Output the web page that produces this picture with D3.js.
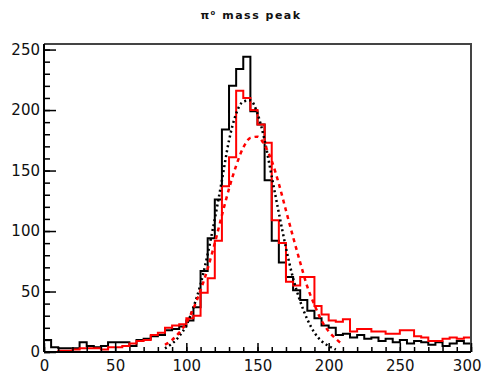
<!DOCTYPE html>
<html>
<head>
<meta charset="utf-8">
<script src="https://cdn.jsdelivr.net/npm/d3@7"></script>
<style>
  body { margin: 0; background: #fff; }
  svg { display: block; }
  .tick text { font-family: "DejaVu Sans", sans-serif; font-size: 15px; fill: #111; }
</style>
</head>
<body>
<svg></svg>
<script>
// bins of 5 MeV from 0 to 300
const binWidth = 5
const blackCounts = [10, 4, 3, 3, 3, 8, 5, 4, 5, 8,
  8, 8, 5, 10, 11, 13, 14, 18, 19, 21,
  26, 37, 67, 94, 126, 184, 220, 234, 244, 199,
  188, 142, 92, 74, 62, 51, 43, 34, 28, 22,
  20, 14, 15, 12, 14, 11, 12, 9, 11, 8,
  10, 7, 9, 8, 6, 8, 5, 7, 9, 7]
const redCounts = [0, 0, 1, 1, 2, 3, 3, 3, 2, 4,
  4, 5, 7, 9, 10, 14, 16, 20, 22, 23,
  28, 30, 49, 61, 92, 137, 161, 216, 210, 200,
  188, 173, 109, 90, 58, 55, 62, 62, 38, 31,
  26, 25, 27, 17, 19, 19, 17, 17, 15, 15,
  18, 18, 13, 12, 9, 9, 11, 12, 11, 12]

// fit curves
const blackFitX = [85, 90, 95, 100, 105, 110, 115, 120, 125, 130, 135, 140, 145, 150, 155, 160, 165, 170, 175, 180, 185, 190, 195, 200, 205]
const blackFitY = [3, 7, 13, 22, 37, 56, 81, 110, 142, 175, 197, 207, 208, 197, 175, 145, 115, 86, 61, 42, 27, 16, 9, 5, 2]
const redFitX = [85, 90, 95, 100, 105, 110, 115, 120, 125, 130, 135, 140, 145, 150, 155, 160, 165, 170, 175, 180, 185, 190, 195, 200, 205, 210]
const redFitY = [6, 10, 16, 24, 36, 51, 69, 90, 113, 135, 154, 169, 177, 178, 171, 158, 139, 117, 95, 74, 54, 39, 26, 17, 11, 6]

const xTicks = [0, 50, 100, 150, 200, 250, 300]
const yTicks = [0, 50, 100, 150, 200, 250]
const title = "π⁰ mass peak"

const margin = {top: 44, right: 11, bottom: 22, left: 44}
const W = 482, H = 374
const width = W - margin.left - margin.right,
height = H - margin.top - margin.bottom

const svg = d3.select("svg").attr("width", W).attr("height", H)

svg.append("text")
  .attr("x", 251).attr("y", 19)
  .attr("text-anchor", "middle")
  .style("font-family", "DejaVu Sans, sans-serif")
  .style("font-size", "11px")
  .style("font-weight", "bold")
  .style("letter-spacing", "1.5px")
  .style("fill", "#111")
  .text(title)

const g = svg.append("g").attr("transform", `translate(${margin.left},${margin.top})`)

const x = d3.scaleLinear().domain([0, 300]).range([0, width])
const y = d3.scaleLinear().domain([0, 254.6]).range([height, 0])

g.append("clipPath").attr("id", "plot-clip")
  .append("rect").attr("width", width).attr("height", height)

// step outline the way ROOT draws a histogram
const histPoints = counts => {
  const pts = [[0, 0]]
  counts.forEach((c, i) => pts.push([i * binWidth, c]))
  pts.push([counts.length * binWidth, counts[counts.length - 1]])
  pts.push([counts.length * binWidth, 0])
  return pts
}
const stepLine = d3.line().x(d => x(d[0])).y(d => y(d[1])).curve(d3.curveStepAfter)
const fitLine = d3.line().x(d => x(d[0])).y(d => y(d[1])).curve(d3.curveMonotoneX)

const plot = g.append("g").attr("clip-path", "url(#plot-clip)")

plot.append("path")
  .attr("d", stepLine(histPoints(blackCounts)))
  .attr("fill", "none").attr("stroke", "#000").attr("stroke-width", 2)

plot.append("path")
  .attr("d", stepLine(histPoints(redCounts)))
  .attr("fill", "none").attr("stroke", "#ff0000").attr("stroke-width", 2)

plot.append("path")
  .attr("d", fitLine(blackFitX.map((v, i) => [v, blackFitY[i]])))
  .attr("fill", "none").attr("stroke", "#000").attr("stroke-width", 2.5)
  .attr("stroke-dasharray", "2,3")

plot.append("path")
  .attr("d", fitLine(redFitX.map((v, i) => [v, redFitY[i]])))
  .attr("fill", "none").attr("stroke", "#ff0000").attr("stroke-width", 2.5)
  .attr("stroke-dasharray", "4,4")

// frame top/right
g.append("path")
  .attr("d", `M0,0H${width}V${height}`)
  .attr("fill", "none").attr("stroke", "#444").attr("stroke-width", 2)

// minor ticks
g.append("g")
  .call(d3.axisLeft(y).tickValues(d3.range(0, 251, 10)).tickSize(-6).tickFormat(""))
  .call(a => a.select(".domain").remove())
  .call(a => a.selectAll("line").attr("stroke", "#000").attr("stroke-width", 1.5))
g.append("g").attr("transform", `translate(0,${height})`)
  .call(d3.axisBottom(x).tickValues(d3.range(0, 301, 10)).tickSize(-5).tickFormat(""))
  .call(a => a.select(".domain").remove())
  .call(a => a.selectAll("line").attr("stroke", "#000").attr("stroke-width", 1.5))

// major ticks and labels
g.append("g")
  .call(d3.axisLeft(y).tickValues(yTicks).tickSize(-12).tickPadding(4))
  .call(a => a.select(".domain").attr("stroke-width", 2).attr("d", `M0,${height}V0`))
  .call(a => a.selectAll("line").attr("stroke", "#000").attr("stroke-width", 1.5))

g.append("g").attr("transform", `translate(0,${height})`)
  .call(d3.axisBottom(x).tickValues(xTicks).tickSize(-9).tickPadding(8))
  .call(a => a.select(".domain").attr("stroke-width", 2).attr("d", `M0,0H${width}`))
  .call(a => a.selectAll("line").attr("stroke", "#000").attr("stroke-width", 1.5))
  // last label would run off the page edge, pull it in
  .call(a => a.selectAll(".tick text").filter(d => d === 300)
    .attr("text-anchor", "end").attr("x", W - margin.left - width - 1 + 0))
</script>
</body>
</html>
